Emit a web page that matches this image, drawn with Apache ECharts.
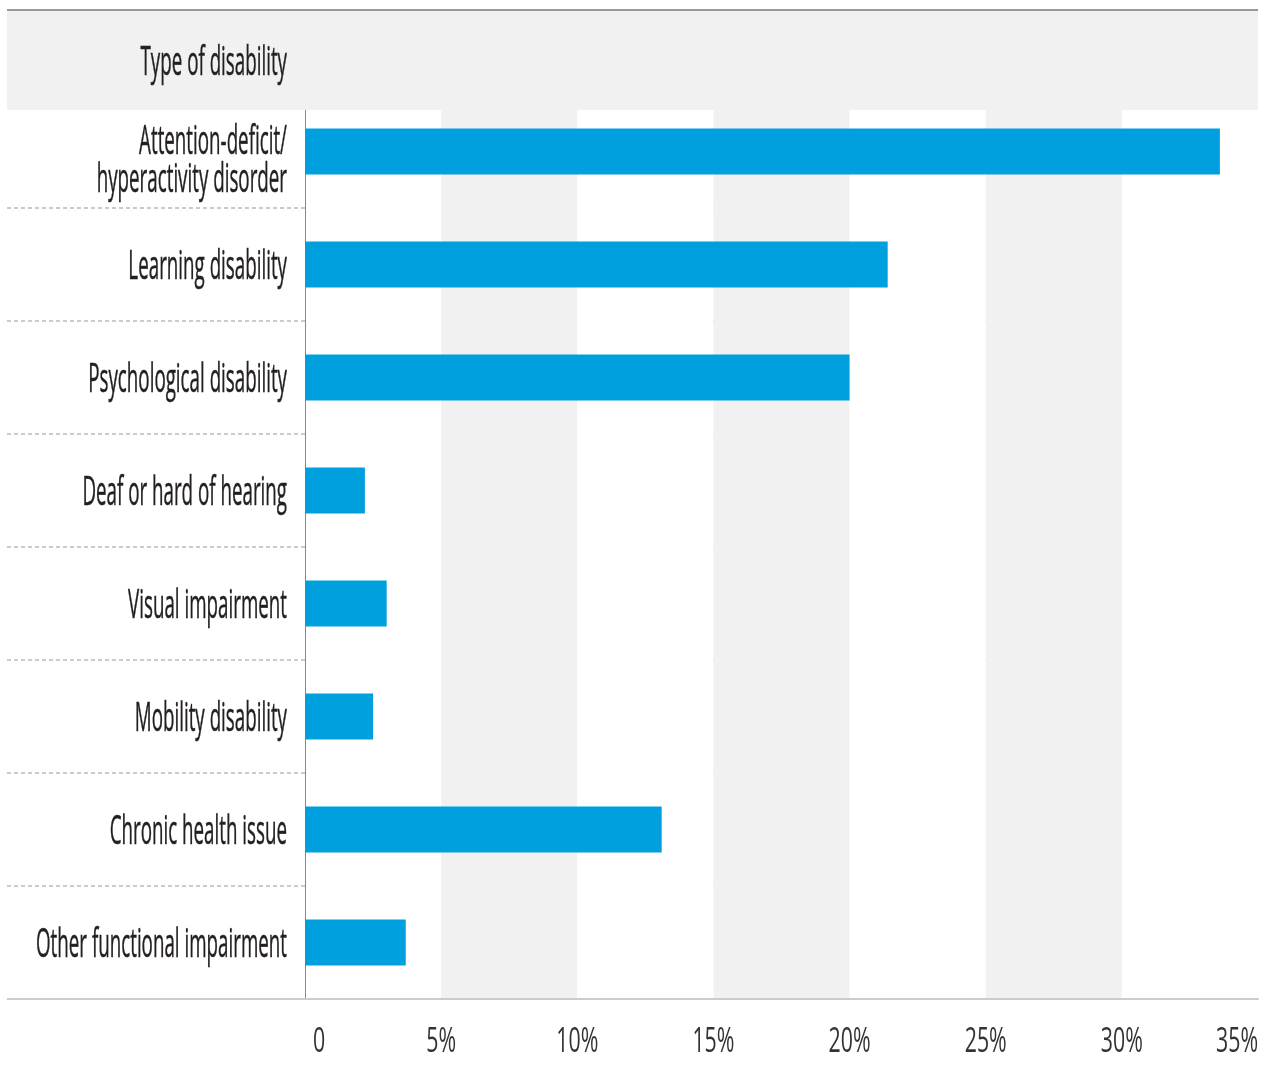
<!DOCTYPE html>
<html>
<head>
<meta charset="utf-8">
<script src="https://cdn.jsdelivr.net/npm/echarts@6/dist/echarts.min.js"></script>
<style>
  html, body { margin: 0; padding: 0; background: #fff; }
  #chart { width: 1265px; height: 1072px; }
</style>
</head>
<body>
<div id="chart"></div>
<script>
var categories = [
  "Attention-deficit/\nhyperactivity disorder",
  "Learning disability",
  "Psychological disability",
  "Deaf or hard of hearing",
  "Visual impairment",
  "Mobility disability",
  "Chronic health issue",
  "Other functional impairment"
];
var shares = [33.6, 21.4, 20.0, 2.2, 3.0, 2.5, 13.1, 3.7];
var xTicks = [0, 5, 10, 15, 20, 25, 30, 35];
var xTickLabels = ["0", "5%", "10%", "15%", "20%", "25%", "30%", "35%"];
var axisTitle = "Type of disability";

var FONT = "'Open Sans', 'Noto Sans', sans-serif";
var TEXT = "#231f20";
var LABEL_SIZE = 41;
var TICK_SIZE = 35;

// the reference uses a very condensed face, so the text is squeezed sideways
var ctx = document.createElement("canvas").getContext("2d");
function textWidth(str, size) {
  ctx.font = size + "px " + FONT;
  return Math.max.apply(null, str.split("\n").map(function (s) {
    return ctx.measureText(s).width;
  }));
}
var catScale = 251 / textWidth("Other functional impairment", LABEL_SIZE);
var tickScale = 42 / textWidth("25%", TICK_SIZE);

var myChart = echarts.init(document.getElementById("chart"), null, { renderer: "canvas" });

var option = {
  animation: false,
  backgroundColor: "#fff",
  grid: {
    left: 305,
    right: 7,
    top: 95,
    bottom: 73,
    containLabel: false,
    outerBoundsMode: "none"
  },
  xAxis: {
    type: "value",
    min: 0,
    max: 35,
    interval: 5,
    axisLine: { show: true, lineStyle: { color: "#cccccc", width: 2 } },
    axisTick: { show: false },
    splitLine: { show: false },
    splitArea: {
      show: true,
      areaStyle: { color: ["#ffffff", "#f1f1f1"] }
    },
    axisLabel: { show: false }
  },
  yAxis: {
    type: "category",
    inverse: true,
    data: categories,
    axisLine: { show: true, lineStyle: { color: "#888", width: 1 } },
    axisTick: {
      show: true,
      interval: 0,
      length: 298,
      lineStyle: { color: "#bbbbbb", type: [4, 3], width: 1.5 }
    },
    splitLine: {
      show: true,
      interval: 0,
      lineStyle: { color: "#bbbbbb", type: [4, 3], width: 1.5 }
    },
    axisLabel: { show: false }
  },
  series: [
    {
      name: "Share",
      type: "bar",
      barWidth: 46,
      data: shares,
      itemStyle: { color: "#00a0de" },
      z: 5
    }
  ]
};

myChart.setOption(option);

function labelStyle(text, align) {
  return {
    text: text,
    fontFamily: FONT,
    fontSize: LABEL_SIZE,
    lineHeight: 38,
    fill: TEXT,
    stroke: TEXT,
    lineWidth: 0.5,
    align: align,
    verticalAlign: "middle"
  };
}

var graphics = [
  {
    type: "rect",
    z: 100,
    shape: { x: 7, y: 11, width: 1251, height: 99 },
    style: { fill: "#f1f1f1" }
  },
  {
    type: "line",
    z: 101,
    shape: { x1: 7, y1: 10, x2: 1258, y2: 10 },
    style: { stroke: "#999", lineWidth: 2 }
  },
  {
    type: "line",
    z: 101,
    shape: { x1: 7, y1: 999, x2: 1258, y2: 999 },
    style: { stroke: "#cccccc", lineWidth: 2 }
  },
  {
    type: "text",
    z: 102,
    x: 287,
    y: 63,
    scaleX: catScale,
    style: labelStyle(axisTitle, "right")
  }
];

// category labels, placed on the y axis scale
categories.forEach(function (name, i) {
  var dy = i === 0 ? 10 : 3;
  graphics.push({
    type: "text",
    z: 102,
    x: 287,
    y: myChart.convertToPixel({ yAxisIndex: 0 }, i) + dy,
    scaleX: catScale,
    style: labelStyle(name, "right")
  });
});

// tick labels, placed on the x axis scale
xTicks.forEach(function (v, i) {
  var px = myChart.convertToPixel({ xAxisIndex: 0 }, v);
  var align = "center";
  if (i === 0) { align = "left"; px += 8; }
  if (i === xTicks.length - 1) { align = "right"; }
  graphics.push({
    type: "text",
    z: 102,
    x: px,
    y: 1042,
    scaleX: tickScale,
    style: {
      text: xTickLabels[i],
      fontFamily: FONT,
      fontSize: TICK_SIZE,
      fill: "#333333",
      align: align,
      verticalAlign: "middle"
    }
  });
});

myChart.setOption({ graphic: graphics });
</script>
</body>
</html>
